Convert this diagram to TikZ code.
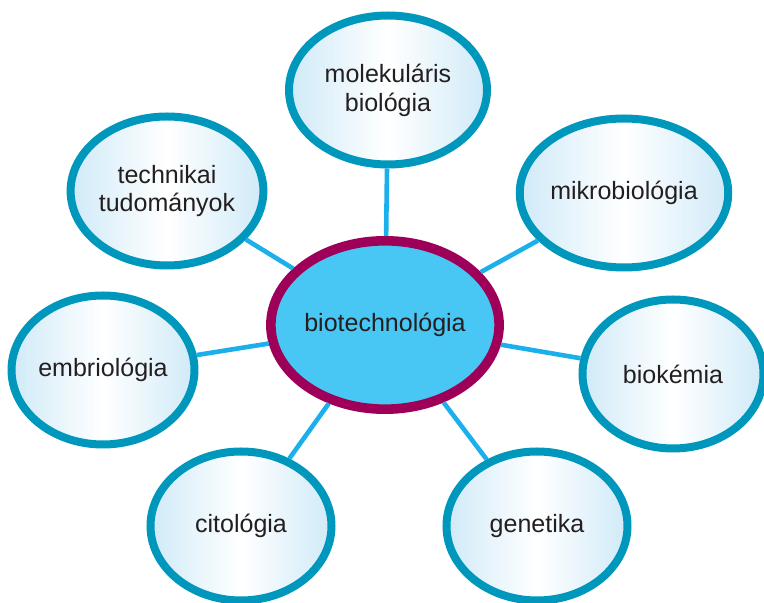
\documentclass[tikz,border=0pt]{standalone}
\usepackage{fontspec}
\setmainfont{Liberation Sans}
\definecolor{bioteal}{RGB}{0,151,188}
\definecolor{biosky}{RGB}{27,176,236}
\definecolor{biocyan}{RGB}{72,198,244}
\definecolor{biopurple}{RGB}{158,0,89}
\definecolor{biopale}{RGB}{208,234,248}
\definecolor{biotext}{RGB}{35,31,32}
\usetikzlibrary{shapes.geometric}

\begin{document}
\begin{tikzpicture}[x=0.25mm, y=-0.25mm,
  fieldbox/.style={ellipse, draw=bioteal, line width=2mm, inner sep=0pt,
    minimum width=45.25mm, minimum height=37.25mm, align=center,
    left color=biopale, right color=biopale, middle color=white,
    text=biotext, font=\fontsize{17.8}{20.5}\selectfont},
  hubbox/.style={ellipse, draw=biopurple, line width=2.4mm, fill=biocyan,
    inner sep=0pt, minimum width=51.6mm, minimum height=42.1mm,
    text=biotext, font=\fontsize{17.8}{20.5}\selectfont},
  link/.style={biosky, line width=1.15mm}]

\useasboundingbox (0,0) rectangle (764,603);

% Hub
\node[hubbox] (hub) at (385,325) {biotechnológia};

% Fields round the hub
\node[fieldbox, minimum width=49.5mm] (molbio) at (388,90) {molekuláris\\biológia};
\node[fieldbox] (tech) at (167,191) {technikai\\tudományok};
\node[fieldbox] (mikro) at (624,193) {mikrobiológia};
\node[fieldbox] (embrio) at (103,370) {embriológia};
\node[fieldbox] (biokem) at (673,374) {biokémia};
\node[fieldbox] (cito) at (241,526) {citológia};
\node[fieldbox] (genet) at (537,526) {genetika};

% Links
\draw[link] (hub) -- (molbio);
\draw[link] (hub) -- (tech);
\draw[link] (hub) -- (mikro);
\draw[link] (hub) -- (embrio);
\draw[link] (hub) -- (biokem);
\draw[link] (hub) -- (cito);
\draw[link] (hub) -- (genet);

\end{tikzpicture}
\end{document}
